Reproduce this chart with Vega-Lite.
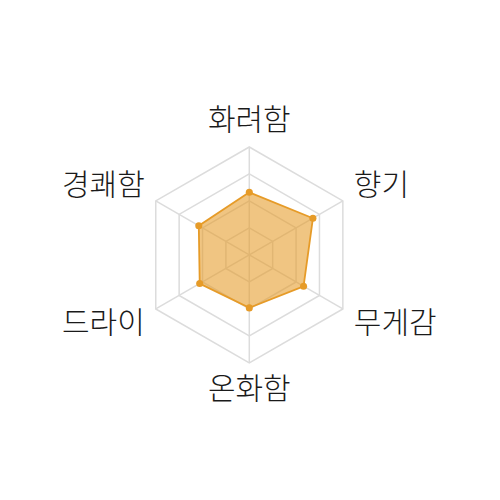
{
  "$schema": "https://vega.github.io/schema/vega-lite/v6.json",
  "width": 500,
  "height": 500,
  "padding": 0,
  "autosize": {"type": "fit", "contains": "padding"},
  "background": "white",
  "view": {"stroke": null},
  "datasets": {
    "scores": [
      {"axis": "화려함", "k": 0, "value": 58},
      {"axis": "향기", "k": 1, "value": 68},
      {"axis": "무게감", "k": 2, "value": 58},
      {"axis": "온화함", "k": 3, "value": 49},
      {"axis": "드라이", "k": 4, "value": 53},
      {"axis": "경쾌함", "k": 5, "value": 54}
    ],
    "grid": [
      {"level": 25, "k": 0}, {"level": 25, "k": 1}, {"level": 25, "k": 2},
      {"level": 25, "k": 3}, {"level": 25, "k": 4}, {"level": 25, "k": 5},
      {"level": 50, "k": 0}, {"level": 50, "k": 1}, {"level": 50, "k": 2},
      {"level": 50, "k": 3}, {"level": 50, "k": 4}, {"level": 50, "k": 5},
      {"level": 75, "k": 0}, {"level": 75, "k": 1}, {"level": 75, "k": 2},
      {"level": 75, "k": 3}, {"level": 75, "k": 4}, {"level": 75, "k": 5},
      {"level": 100, "k": 0}, {"level": 100, "k": 1}, {"level": 100, "k": 2},
      {"level": 100, "k": 3}, {"level": 100, "k": 4}, {"level": 100, "k": 5}
    ]
  },
  "layer": [
    {
      "data": {"name": "grid"},
      "transform": [
        {"calculate": "datum.level * sin(datum.k * PI / 3)", "as": "gx"},
        {"calculate": "datum.level * cos(datum.k * PI / 3)", "as": "gy"}
      ],
      "mark": {"type": "line", "interpolate": "linear-closed", "stroke": "#dcdcdc", "strokeWidth": 1.5},
      "encoding": {
        "x": {"field": "gx", "type": "quantitative", "scale": {"domain": [-230.8, 232.1], "nice": false, "zero": false}, "axis": null},
        "y": {"field": "gy", "type": "quantitative", "scale": {"domain": [-226.9, 236.1], "nice": false, "zero": false}, "axis": null},
        "detail": {"field": "level"},
        "order": {"field": "k"}
      }
    },
    {
      "data": {"name": "scores"},
      "transform": [
        {"calculate": "100 * sin(datum.k * PI / 3)", "as": "sx"},
        {"calculate": "100 * cos(datum.k * PI / 3)", "as": "sy"}
      ],
      "mark": {"type": "rule", "stroke": "#dcdcdc", "strokeWidth": 1.5},
      "encoding": {
        "x": {"field": "sx", "type": "quantitative"},
        "y": {"field": "sy", "type": "quantitative"},
        "x2": {"datum": 0},
        "y2": {"datum": 0}
      }
    },
    {
      "data": {"name": "scores"},
      "transform": [
        {"calculate": "datum.value * sin(datum.k * PI / 3)", "as": "px"},
        {"calculate": "datum.value * cos(datum.k * PI / 3)", "as": "py"}
      ],
      "layer": [
        {
          "mark": {
            "type": "line",
            "interpolate": "linear-closed",
            "stroke": "#e69b28",
            "strokeWidth": 1.8,
            "fill": "#e69b28",
            "fillOpacity": 0.58
          },
          "encoding": {
            "x": {"field": "px", "type": "quantitative"},
            "y": {"field": "py", "type": "quantitative"},
            "order": {"field": "k"}
          }
        },
        {
          "mark": {"type": "point", "filled": true, "size": 50, "color": "#e69b28", "opacity": 1},
          "encoding": {
            "x": {"field": "px", "type": "quantitative"},
            "y": {"field": "py", "type": "quantitative"}
          }
        }
      ]
    },
    {
      "data": {"name": "scores"},
      "transform": [
        {"calculate": "100 * sin(datum.k * PI / 3)", "as": "lx"},
        {"calculate": "100 * cos(datum.k * PI / 3)", "as": "ly"}
      ],
      "mark": {
        "type": "text",
        "font": "Noto Sans CJK KR",
        "fontSize": 30,
        "fontWeight": 300,
        "color": "#1a1a1a",
        "align": {"expr": "datum.k == 0 || datum.k == 3 ? 'center' : datum.k < 3 ? 'left' : 'right'"},
        "baseline": {"expr": "datum.k <= 1 || datum.k == 5 ? 'bottom' : 'top'"},
        "dx": {"expr": "datum.k == 0 || datum.k == 3 ? 0 : datum.k < 3 ? 11 : -11"},
        "dy": {"expr": "datum.k == 0 ? -11 : datum.k == 3 ? 12 : 0"}
      },
      "encoding": {
        "x": {"field": "lx", "type": "quantitative"},
        "y": {"field": "ly", "type": "quantitative"},
        "text": {"field": "axis"}
      }
    }
  ]
}
